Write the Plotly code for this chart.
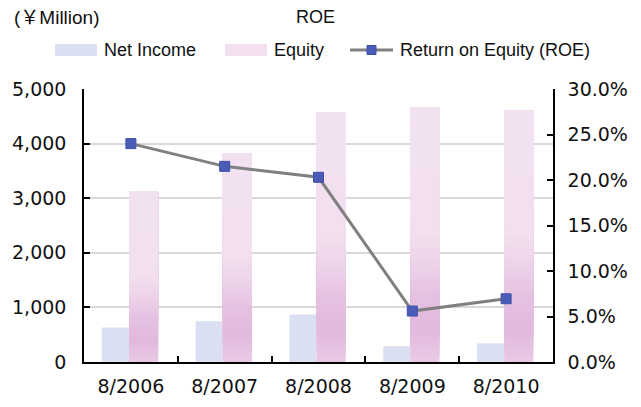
import plotly.graph_objects as go

# ---- data ----
categories = ["8/2006", "8/2007", "8/2008", "8/2009", "8/2010"]
net_income = [630, 745, 870, 290, 342]
equity = [3120, 3815, 4565, 4655, 4600]
roe = [0.240, 0.215, 0.203, 0.056, 0.0695]

# ---- layout geometry (page pixels; the page body adds an 8px offset) ----
OFF = 8
W, H = 641 - OFF, 407 - OFF
PLOT_L, PLOT_R, PLOT_T, PLOT_B = 84, 553, 89, 362   # page coordinates
L, T = PLOT_L - OFF, PLOT_T - OFF
R, B = W - (PLOT_R - OFF), H - (PLOT_B - OFF)
PW, PH = W - L - R, H - T - B

def px(x):
    return (x - PLOT_L) / PW

def py(y):
    return (PLOT_B - y) / PH

TICK_FONT = dict(family="DejaVu Sans", size=19, color="#111111")
TXT_FONT = dict(family="Liberation Sans, Arial, Noto Sans CJK JP", size=18, color="#111111")

NI_COLOR = "#dae0f2"
LINE_COLOR = "#808080"
MARK_COLOR = "#4b5cb8"

# gradient stops for equity bars (fraction of bar height -> colour)
grad_stops = [
    (0.00, (0xea, 0xca, 0xe6)),
    (0.12, (0xe2, 0xb9, 0xdd)),
    (0.26, (0xe5, 0xc1, 0xe1)),
    (0.40, (0xed, 0xd5, 0xea)),
    (0.52, (0xf2, 0xe0, 0xf0)),
    (1.00, (0xf2, 0xe1, 0xf0)),
]

def grad_color(f):
    for (f0, c0), (f1, c1) in zip(grad_stops[:-1], grad_stops[1:]):
        if f0 <= f <= f1:
            t = (f - f0) / (f1 - f0) if f1 > f0 else 0
            c = [round(a + (b - a) * t) for a, b in zip(c0, c1)]
            return "rgb(%d,%d,%d)" % tuple(c)
    return "rgb(242,225,240)"

fig = go.Figure()

fig.add_trace(go.Bar(
    x=categories, y=net_income, name="Net Income",
    marker=dict(color=NI_COLOR, line=dict(width=0)),
    width=0.29, offset=-0.31, showlegend=False,
))

# Equity bars: layered from bottom to top, each layer reaching the bar top,
# so later layers cover earlier ones and a smooth gradient results
N = 40
for i in range(N):
    f0 = i / N
    fig.add_trace(go.Bar(
        x=categories,
        y=[v * (1 - f0) for v in equity],
        base=[v * f0 for v in equity],
        name="Equity",
        marker=dict(color=grad_color(f0 + 0.5 / N), line=dict(width=0)),
        width=0.31, offset=-0.02, showlegend=False,
        hoverinfo="skip" if i else None,
    ))

fig.add_trace(go.Scatter(
    x=categories, y=roe, yaxis="y2", name="Return on Equity (ROE)",
    mode="lines+markers",
    line=dict(color=LINE_COLOR, width=3),
    marker=dict(symbol="square", size=10, color=MARK_COLOR,
                line=dict(color="#3f4fa8", width=1)),
    showlegend=False,
))

# ---- manual legend + titles ----
shapes = []
annotations = []
leg_y = 50
shapes.append(dict(type="rect", xref="paper", yref="paper",
                   x0=px(55), x1=px(97), y0=py(leg_y + 6), y1=py(leg_y - 6),
                   fillcolor=NI_COLOR, line=dict(width=0)))
annotations.append(dict(text="Net Income", xref="paper", yref="paper",
                        x=px(102), y=py(leg_y), xanchor="left", yanchor="middle",
                        showarrow=False, font=TXT_FONT))
shapes.append(dict(type="rect", xref="paper", yref="paper",
                   x0=px(225), x1=px(267), y0=py(leg_y + 6), y1=py(leg_y - 6),
                   fillcolor="#f2e0f0", line=dict(width=0)))
annotations.append(dict(text="Equity", xref="paper", yref="paper",
                        x=px(272), y=py(leg_y), xanchor="left", yanchor="middle",
                        showarrow=False, font=TXT_FONT))
shapes.append(dict(type="line", xref="paper", yref="paper",
                   x0=px(350), x1=px(393), y0=py(leg_y), y1=py(leg_y),
                   line=dict(color=LINE_COLOR, width=3)))
shapes.append(dict(type="rect", xref="paper", yref="paper",
                   x0=px(367), x1=px(376), y0=py(leg_y + 4.5), y1=py(leg_y - 4.5),
                   fillcolor=MARK_COLOR, line=dict(color="#3f4fa8", width=1)))
annotations.append(dict(text="Return on Equity (ROE)", xref="paper", yref="paper",
                        x=px(398), y=py(leg_y), xanchor="left", yanchor="middle",
                        showarrow=False, font=TXT_FONT))
annotations.append(dict(text="ROE", xref="paper", yref="paper",
                        x=px(315), y=py(17), xanchor="center", yanchor="middle",
                        showarrow=False, font=TXT_FONT))
annotations.append(dict(text="(￥Million)", xref="paper", yref="paper",
                        x=px(12), y=py(17), xanchor="left", yanchor="middle",
                        showarrow=False, font=dict(TXT_FONT, size=19)))

fig.update_layout(
    width=W, height=H,
    margin=dict(l=L, r=R, t=T, b=B, pad=0, autoexpand=False),
    paper_bgcolor="white", plot_bgcolor="white",
    barmode="overlay",
    showlegend=False,
    shapes=shapes, annotations=annotations,
    xaxis=dict(
        type="category", showline=True, linecolor="black", linewidth=1.5,
        ticks="inside", ticklen=6, tickcolor="black", tickwidth=1.5,
        tickson="boundaries", showgrid=False, tickfont=TICK_FONT,
        ticklabelstandoff=6, automargin=False,
    ),
    yaxis=dict(
        range=[0, 5000], dtick=1000, tickformat=",",
        showline=True, linecolor="black", linewidth=1.5,
        ticks="inside", ticklen=6, tickcolor="black", tickwidth=1.5,
        showgrid=True, gridcolor="#d9d9d9", gridwidth=1.5,
        zeroline=False, tickfont=TICK_FONT, ticklabelstandoff=12,
        automargin=False,
    ),
    yaxis2=dict(
        range=[0, 0.30], dtick=0.05, tickformat=".1%",
        overlaying="y", side="right",
        showline=True, linecolor="black", linewidth=1.5,
        ticks="inside", ticklen=6, tickcolor="black", tickwidth=1.5,
        showgrid=False, zeroline=False, tickfont=TICK_FONT, ticklabelstandoff=9,
        automargin=False,
    ),
)

fig.write_html("out.html")
